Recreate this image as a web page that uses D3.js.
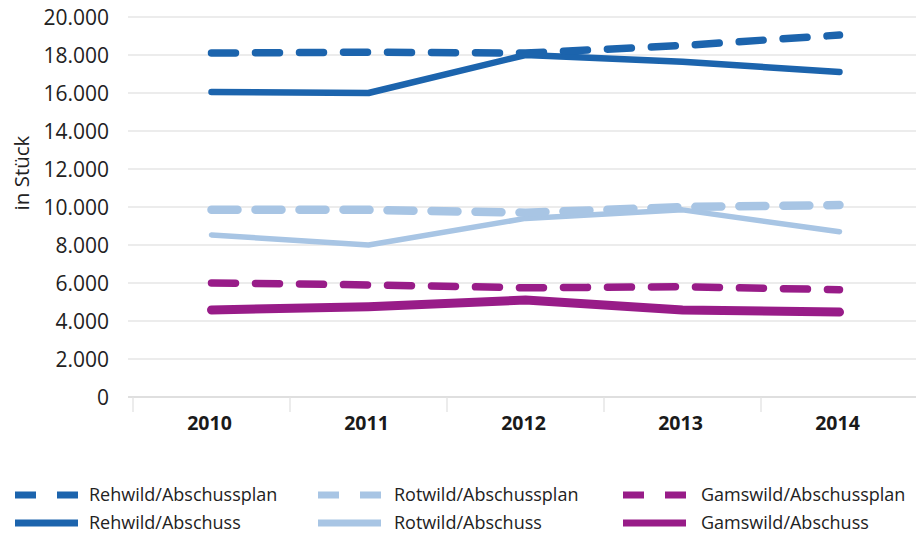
<!DOCTYPE html>
<html><head><meta charset="utf-8">
<script src="https://cdn.jsdelivr.net/npm/d3@7"></script>
<style>body{margin:0;background:#fff}svg{display:block}</style>
</head><body>
<script>
const years = ["2010","2011","2012","2013","2014"];
const yTicks = [0,2000,4000,6000,8000,10000,12000,14000,16000,18000,20000];
const rehPlan = [18100,18150,18100,18500,19050];
const rehIst  = [16050,16000,18000,17650,17100];
const rotPlan = [9850,9850,9700,10000,10100];
const rotIst  = [8530,8000,9400,9850,8700];
const gamPlan = [6000,5900,5750,5800,5650];
const gamIst  = [4580,4750,5100,4580,4470];
const seriesNames = ["Rehwild/Abschussplan","Rehwild/Abschuss","Rotwild/Abschussplan","Rotwild/Abschuss","Gamswild/Abschussplan","Gamswild/Abschuss"];

const W=916,H=536;
const svg=d3.select("body").append("svg").attr("width",W).attr("height",H);
const font="'Open Sans', sans-serif";
const x=d3.scaleBand().domain(years).range([133,918]);
const y=d3.scaleLinear().domain([0,20000]).range([397,17]);
const fmt=d=>d===0?"0":d3.format(",")(d).replace(/,/g,".");

// gridlines
svg.append("g").selectAll("line").data(yTicks).join("line")
  .attr("x1",128).attr("x2",916).attr("y1",d=>y(d)).attr("y2",d=>y(d))
  .attr("stroke",d=>d===0?"#d4d4d4":"#e6e6e6").attr("stroke-width",1.3);
// y labels
svg.append("g").selectAll("text").data(yTicks).join("text")
  .attr("x",109).attr("y",d=>y(d)).attr("dy","0.36em").attr("text-anchor","end")
  .attr("font-family",font).attr("font-size",21).attr("fill","#222").text(fmt);
// x ticks
const bounds=years.map(d=>x(d)).concat([x.range()[1]]);
svg.append("g").selectAll("line").data(bounds).join("line")
  .attr("x1",d=>d).attr("x2",d=>d).attr("y1",397).attr("y2",412)
  .attr("stroke","#e2e2e2").attr("stroke-width",1.3);
svg.append("g").selectAll("text").data(years).join("text")
  .attr("x",d=>x(d)+x.bandwidth()/2-2).attr("y",430)
  .attr("text-anchor","middle").attr("font-family",font).attr("font-weight","bold")
  .attr("font-size",19.5).attr("fill","#1a1a1a").text(d=>d);
// y title
svg.append("text").attr("transform","translate(29,173) rotate(-90)")
  .attr("text-anchor","middle").attr("font-family",font).attr("font-size",20.5)
  .attr("fill","#222").text("in Stück");

const cDark="#1c64ad", cLight="#a8c5e4", cPurp="#981c88";
const series=[
  {name:seriesNames[0],vals:rehPlan,color:cDark,w:7.5,dash:"24,20"},
  {name:seriesNames[1],vals:rehIst,color:cDark,w:6.5,dash:null},
  {name:seriesNames[2],vals:rotPlan,color:cLight,w:8.5,dash:"26,18"},
  {name:seriesNames[3],vals:rotIst,color:cLight,w:5.5,dash:null},
  {name:seriesNames[4],vals:gamPlan,color:cPurp,w:7.5,dash:"24,20"},
  {name:seriesNames[5],vals:gamIst,color:cPurp,w:9,dash:null}
];
const line=d3.line().x((d,i)=>x(years[i])+x.bandwidth()/2).y(d=>y(d));
const order=[3,2,5,4,1,0];
order.forEach(k=>{
  const s=series[k];
  svg.append("path").attr("d",line(s.vals)).attr("fill","none")
    .attr("stroke",s.color).attr("stroke-width",s.w)
    .attr("stroke-linecap","round").attr("stroke-linejoin","round")
    .attr("stroke-dasharray",s.dash);
});

// legend
const cols=[{sx:15,tx:89},{sx:318,tx:394},{sx:623,tx:701}];
const rows=[495,523];
series.forEach((s,i)=>{
  const c=cols[Math.floor(i/2)], r=rows[i%2];
  const g=svg.append("g");
  if(s.dash){
    g.append("rect").attr("x",c.sx).attr("y",r-3.5).attr("width",21).attr("height",7).attr("fill",s.color);
    g.append("rect").attr("x",c.sx+42).attr("y",r-3.5).attr("width",21).attr("height",7).attr("fill",s.color);
  } else {
    g.append("rect").attr("x",c.sx).attr("y",r-3.5).attr("width",63).attr("height",7).attr("fill",s.color);
  }
  g.append("text").attr("x",c.tx).attr("y",r).attr("dy","0.35em")
    .attr("font-family",font).attr("font-size",18).attr("fill","#222").text(s.name);
});
</script>
</body></html>
